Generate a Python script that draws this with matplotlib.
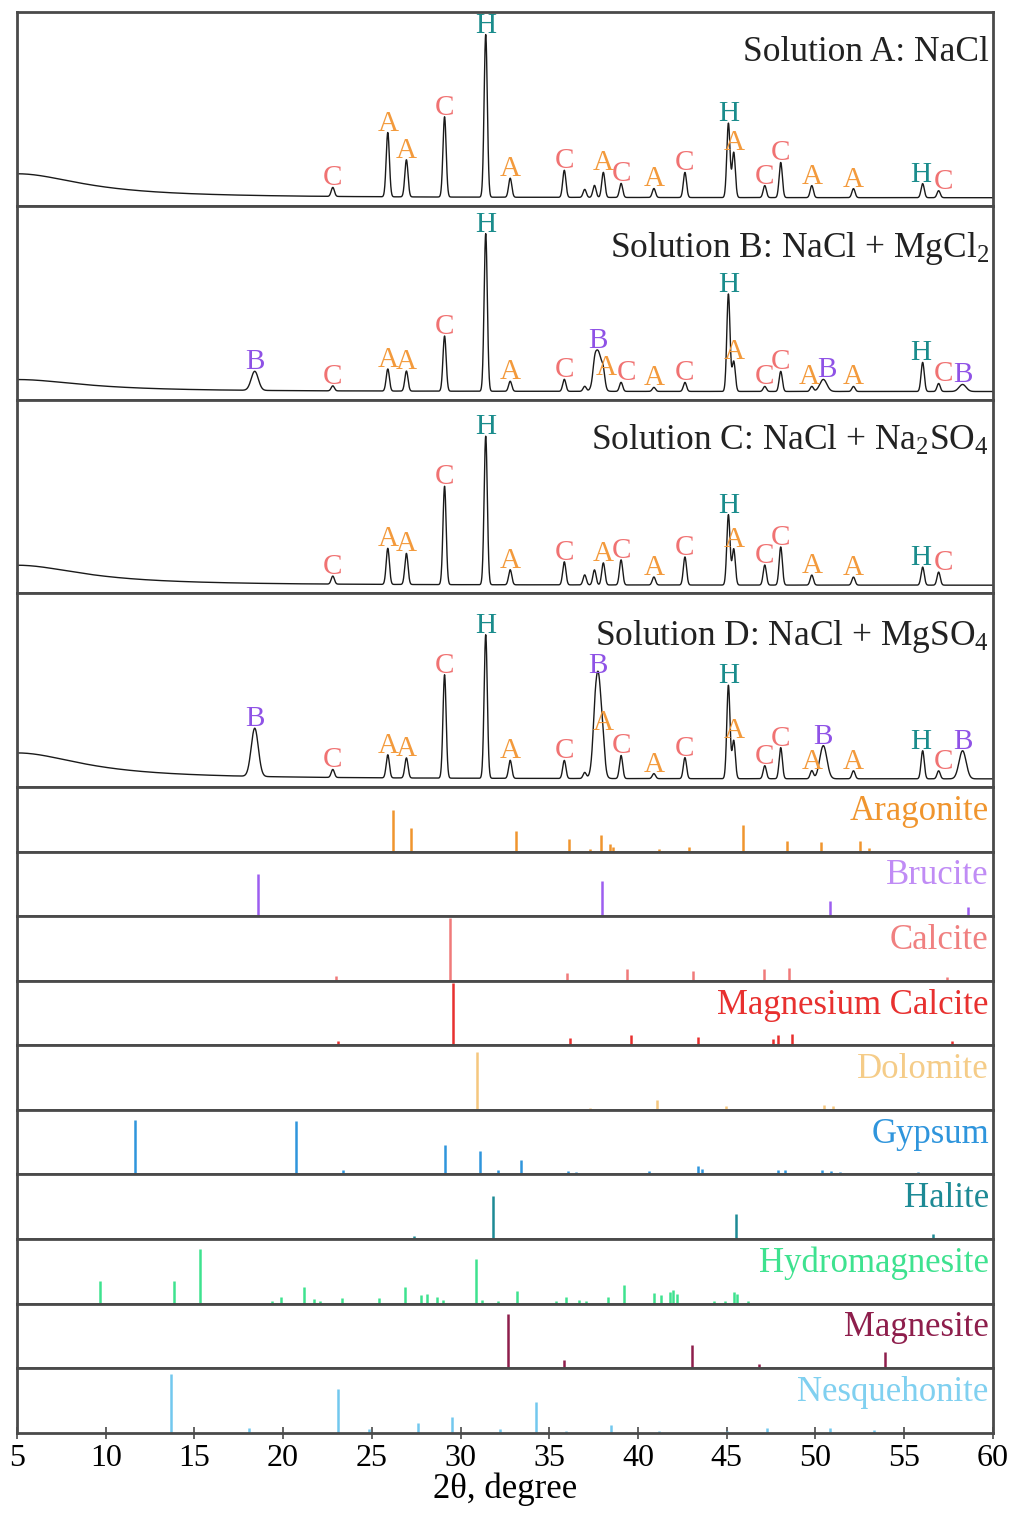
import matplotlib
matplotlib.use("Agg")
import matplotlib.pyplot as plt
import numpy as np

plt.rcParams['font.family'] = ['Liberation Serif', 'DejaVu Serif']
plt.rcParams['mathtext.fontset'] = 'custom'
plt.rcParams['mathtext.rm'] = 'Liberation Serif'

# ---- measured patterns: peak positions (2theta), phase letter, heights ----
peak_pos = [18.4, 22.8, 25.9, 26.95, 29.1, 31.42, 32.8, 35.85, 37.0, 37.55, 37.75,
            38.05, 39.05, 40.9, 42.65, 45.1, 45.4, 47.15, 48.05, 49.8, 50.45,
            52.15, 56.05, 56.95, 58.3]
peak_phase = ['B', 'C', 'A', 'A', 'C', 'H', 'A', 'C', '', '', 'B',
              'A', 'C', 'A', 'C', 'H', 'A', 'C', 'C', 'A', 'B',
              'A', 'H', 'C', 'B']

int_a = [0, 9, 64, 37, 80, 162, 19, 27, 8, 12, 0, 25, 14, 9, 25, 74, 45, 12, 35, 12, 0, 9, 14, 7, 0]
int_b = [19, 5, 22, 20, 55, 157, 10, 12, 5, 10, 40, 12, 9, 4, 9, 97, 30, 5, 20, 5, 12, 5, 29, 8, 7]
int_c = [0, 8, 36, 31, 98, 148, 15, 23, 10, 15, 0, 22, 25, 8, 28, 70, 36, 20, 38, 10, 0, 8, 18, 13, 0]
int_d = [48, 8, 23, 20, 103, 143, 18, 18, 6, 10, 106, 12, 23, 5, 21, 93, 38, 13, 31, 8, 33, 8, 28, 8, 28]

# low angle amorphous hump height for each sample
hump = [24, 12, 20, 26]

titles = ['Solution A: NaCl',
          r'Solution B: NaCl + MgCl$\mathregular{_2}$',
          r'Solution C: NaCl + Na$\mathregular{_2}$SO$\mathregular{_4}$',
          r'Solution D: NaCl + MgSO$\mathregular{_4}$']

letter_col = {'A': '#f39a3c', 'B': '#8f52e6', 'C': '#f07272', 'H': '#1a8c8c'}

# label nudges (panel, peak index) -> (dx in degrees, dy in panel units)
label_nudge = {(1, 11): (0.15, -11), (1, 12): (0.3, 0),
               (1, 19): (-0.15, 0), (1, 20): (0.2, 0), (3, 10): (0, -4)}
for _i in range(4):
    label_nudge[(_i, 22)] = (-0.1, 0)
    label_nudge[(_i, 23)] = (0.3, 0)

# ---- reference patterns (stick lines) ----
aragonite_x = [26.2, 27.2, 33.1, 36.1, 37.3, 37.9, 38.4, 38.6, 41.2, 42.9, 45.9, 48.4, 50.3, 52.5, 53.0]
aragonite_y = [41, 23, 20, 13, 3, 16, 8, 5, 3, 5, 26, 11, 10, 11, 4]
brucite_x = [18.6, 38.0, 50.8, 58.6]
brucite_y = [42, 35, 15, 9]
calcite_x = [23.0, 29.4, 36.0, 39.4, 43.1, 47.1, 48.5, 57.4]
calcite_y = [5, 62, 8, 12, 10, 12, 13, 4]
mgcalcite_x = [23.1, 29.6, 36.15, 39.6, 43.4, 47.6, 47.9, 48.7, 57.7]
mgcalcite_y = [4, 62, 7, 10, 8, 6, 10, 11, 4]
dolomite_x = [30.94, 37.3, 41.1, 44.96, 50.5, 51.0]
dolomite_y = [57, 2, 10, 4, 5, 4]
gypsum_x = [11.63, 20.74, 23.4, 29.15, 31.1, 32.1, 33.4, 36.07, 36.5, 40.6, 43.4, 43.6,
            47.9, 48.3, 50.4, 50.9, 51.4, 55.8]
gypsum_y = [54, 53, 4, 29, 23, 4, 14, 3, 2, 3, 8, 5, 4, 4, 4, 3, 2, 2]
halite_x = [27.4, 31.85, 45.55, 56.66]
halite_y = [3, 43, 25, 5]
hydromag_x = [9.66, 13.85, 15.3, 19.4, 19.9, 21.2, 21.76, 22.1, 23.3, 25.4, 26.86, 27.8,
              28.1, 28.7, 29.0, 30.87, 31.2, 32.1, 33.2, 35.4, 35.96, 36.7, 37.1, 38.3,
              39.2, 40.9, 41.3, 41.8, 42.0, 42.2, 44.3, 44.9, 45.4, 45.6, 46.2]
hydromag_y = [22, 22, 54, 3, 7, 16, 5, 3, 6, 6, 16, 9, 10, 7, 4, 44, 4, 3, 13, 3, 7, 4,
              3, 7, 18, 11, 9, 12, 14, 10, 3, 3, 12, 10, 3]
magnesite_x = [32.7, 35.85, 38.7, 43.07, 46.8, 53.9]
magnesite_y = [54, 8, 1, 23, 4, 16]
nesque_x = [13.67, 18.1, 23.1, 24.85, 27.6, 29.5, 32.2, 34.25, 35.96, 38.5, 41.2, 45.0,
            47.26, 50.8, 53.3]
nesque_y = [58, 5, 43, 4, 10, 16, 4, 31, 2, 8, 2, 2, 5, 5, 3]

ref_names = ['Aragonite', 'Brucite', 'Calcite', 'Magnesium Calcite', 'Dolomite',
             'Gypsum', 'Halite', 'Hydromagnesite', 'Magnesite', 'Nesquehonite']
ref_x = [aragonite_x, brucite_x, calcite_x, mgcalcite_x, dolomite_x,
         gypsum_x, halite_x, hydromag_x, magnesite_x, nesque_x]
ref_y = [aragonite_y, brucite_y, calcite_y, mgcalcite_y, dolomite_y,
         gypsum_y, halite_y, hydromag_y, magnesite_y, nesque_y]
ref_col = ['#f0952e', '#9d5ef0', '#f07a7a', '#e8302f', '#f5c77e',
           '#2f95dc', '#1d8a95', '#3ee28f', '#8e1e4c', '#72c8ee']
ref_lab_col = ['#f0952e', '#c08cf5', '#f08080', '#e8302f', '#f5cc88',
               '#2f95dc', '#1d8a95', '#3ee28f', '#8e1e4c', '#80d0f0']

spine_col = '#4a4a4a'

fig = plt.figure(figsize=(10.13, 15.21), dpi=100)
gs = fig.add_gridspec(14, 1, height_ratios=[3] * 4 + [1] * 10, hspace=0,
                      left=0.0168, right=0.980, top=0.992, bottom=0.058)
axes = [fig.add_subplot(gs[i]) for i in range(14)]
for ax in axes[1:]:
    ax.sharex(axes[0])

x = np.arange(5, 60.001, 0.01)
base = 8


def pattern(xx, ints, hmp):
    yy = base + hmp / (1 + ((xx - 5) / 4.5) ** 2)
    for p, h, ph in zip(peak_pos, ints, peak_phase):
        s = 0.2 if ph == 'B' else 0.09
        yy = yy + h * np.exp(-0.5 * ((xx - p) / s) ** 2)
    return yy


for i, ints in enumerate([int_a, int_b, int_c, int_d]):
    ax = axes[i]
    y = pattern(x, ints, hump[i])
    ax.plot(x, y, color='#1a1a1a', lw=1.0)
    for k, (p, h, ph) in enumerate(zip(peak_pos, ints, peak_phase)):
        if h == 0 or ph == '':
            continue
        top = pattern(np.array([p]), ints, hump[i])[0]
        dx, dy = label_nudge.get((i, k), (0, 0))
        ax.text(p + dx, top - 4 + dy, ph, color=letter_col[ph], fontsize=21,
                ha='center', va='bottom')
    ax.text(0.996, 0.875, titles[i], transform=ax.transAxes, fontsize=25.5,
            ha='right', va='top', color='#222222')
    ax.set_ylim(0, 193)

for j in range(10):
    ax = axes[4 + j]
    ax.vlines(ref_x[j], 0, ref_y[j], color=ref_col[j], lw=1.8)
    ax.text(0.996, 0.88, ref_names[j], transform=ax.transAxes, fontsize=25,
            ha='right', va='top', color=ref_lab_col[j])
    ax.set_ylim(0, 64)

for ax in axes:
    ax.set_yticks([])
    for sp in ax.spines.values():
        sp.set_color(spine_col)
        sp.set_linewidth(2)
    ax.tick_params(axis='x', bottom=False, labelbottom=False)

axes[0].set_xlim(5, 60)
axes[-1].set_xticks(np.arange(5, 61, 5))
axes[-1].tick_params(axis='x', bottom=True, labelbottom=True, direction='inout',
                     length=8, width=1.2, color=spine_col, labelsize=23, pad=4)
axes[-1].set_xlabel('2θ, degree', fontsize=25, labelpad=0)

fig.savefig('out.png', dpi=100)
